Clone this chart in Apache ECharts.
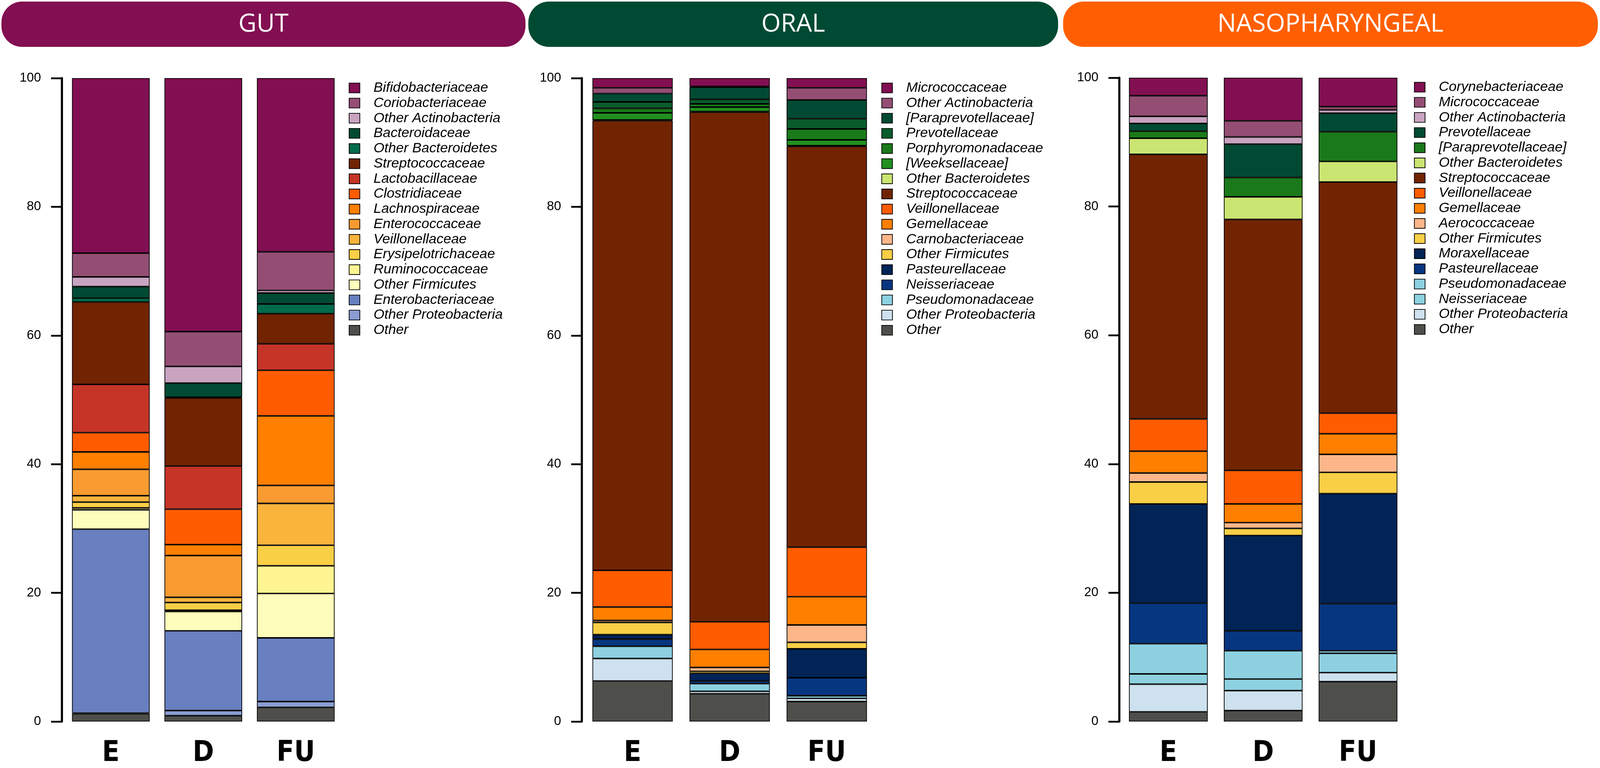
<!DOCTYPE html>
<html>
<head>
<meta charset="utf-8">
<script src="https://cdn.jsdelivr.net/npm/echarts@6/dist/echarts.min.js"></script>
<style>
html,body{margin:0;padding:0;background:#fff;overflow:hidden;}
#c{width:100vw;height:100vh;}
</style>
</head>
<body>
<div id="c"></div>
<script>
// ---------------- DATA ----------------
const samples = ['E', 'D', 'FU'];
const panelTitles = ['GUT', 'ORAL', 'NASOPHARYNGEAL'];
const yTicks = [0, 20, 40, 60, 80, 100];

// GUT (legend order, top of bar -> bottom)
const gutTaxa = ['Bifidobacteriaceae','Coriobacteriaceae','Other Actinobacteria','Bacteroidaceae','Other Bacteroidetes','Streptococcaceae','Lactobacillaceae','Clostridiaceae','Lachnospiraceae','Enterococcaceae','Veillonellaceae','Erysipelotrichaceae','Ruminococcaceae','Other Firmicutes','Enterobacteriaceae','Other Proteobacteria','Other'];
const gutE  = [27.2, 3.7, 1.5, 1.8, 0.6, 12.8, 7.5, 3.0, 2.7, 4.1, 1.0, 0.9, 0.3, 3.0, 28.6, 0.1, 1.2];
const gutD  = [39.4, 5.4, 2.6, 2.2, 0.1, 10.6, 6.7, 5.5, 1.7, 6.5, 0.8, 1.2, 0.2, 3.0, 12.4, 0.8, 0.9];
const gutFU = [27.0, 6.0, 0.4, 1.7, 1.5, 4.7, 4.1, 7.1, 10.8, 2.8, 6.5, 3.2, 4.3, 6.9, 9.9, 0.9, 2.2];
const gutColors = ['#820f52','#944e74','#c9a4c1','#004a33','#006b4a','#722402','#c53427','#ff5c00','#ff7f00','#f99b30','#fab43c','#f9cf46','#fef592','#fefdbb','#687fc0','#8a9dd2','#4e4f4b'];

// ORAL
const oralTaxa = ['Micrococcaceae','Other Actinobacteria','[Paraprevotellaceae]','Prevotellaceae','Porphyromonadaceae','[Weeksellaceae]','Other Bacteroidetes','Streptococcaceae','Veillonellaceae','Gemellaceae','Carnobacteriaceae','Other Firmicutes','Pasteurellaceae','Neisseriaceae','Pseudomonadaceae','Other Proteobacteria','Other'];
const oralE  = [1.5, 0.9, 1.3, 1.0, 0.7, 1.1, 0.1, 69.9, 5.7, 2.1, 0.3, 1.9, 0.7, 1.1, 1.9, 3.5, 6.3];
const oralD  = [1.3, 0.1, 1.9, 0.7, 0.5, 0.7, 0.1, 79.2, 4.3, 2.8, 0.6, 0.3, 1.2, 0.4, 1.2, 0.4, 4.3];
const oralFU = [1.5, 1.9, 2.9, 1.6, 1.7, 0.9, 0.1, 62.3, 7.7, 4.4, 2.7, 1.0, 4.5, 2.8, 0.4, 0.5, 3.1];
const oralColors = ['#820f52','#944e74','#004a33','#0a5c2c','#1a7a1a','#21901f','#cbe572','#722402','#ff5c00','#ff7f00','#fdb68a','#f9cf46','#012356','#073680','#8dd1e1','#cde1ee','#4e4f4b'];

// NASOPHARYNGEAL
const nasoTaxa = ['Corynebacteriaceae','Micrococcaceae','Other Actinobacteria','Prevotellaceae','[Paraprevotellaceae]','Other Bacteroidetes','Streptococcaceae','Veillonellaceae','Gemellaceae','Aerococcaceae','Other Firmicutes','Moraxellaceae','Pasteurellaceae','Pseudomonadaceae','Neisseriaceae','Other Proteobacteria','Other'];
const nasoE  = [2.8, 3.2, 1.1, 1.2, 1.1, 2.5, 41.1, 5.0, 3.4, 1.4, 3.4, 15.4, 6.3, 4.7, 1.6, 4.3, 1.5];
const nasoD  = [6.7, 2.5, 1.1, 5.2, 3.0, 3.5, 39.0, 5.2, 2.9, 0.9, 1.1, 14.8, 3.1, 4.4, 1.8, 3.1, 1.7];
const nasoFU = [4.5, 0.5, 0.5, 2.9, 4.6, 3.2, 35.9, 3.2, 3.2, 2.8, 3.3, 17.1, 7.3, 0.4, 3.0, 1.4, 6.2];
const nasoColors = ['#820f52','#944e74','#c9a4c1','#004a33','#1a7a1a','#cbe572','#722402','#ff5c00','#ff7f00','#fdb68a','#f9cf46','#012356','#073680','#8dd1e1','#8dd1e1','#cde1ee','#4e4f4b'];

// ---------------- LAYOUT (design units: 4482 x 1966) ----------------
const el = document.getElementById('c');
const chart = echarts.init(el, null, {renderer: 'canvas'});
const sx = chart.getWidth() / 4482;
const sy = chart.getHeight() / 1966;
const fs = Math.min(sx, sy);
const X = v => v * sx, Y = v => v * sy, F = v => v * fs;

const headerColors = ['#820f52', '#004a33', '#ff5f00'];
const headerBoxes = [[4, 1468], [1480, 1484], [2978, 1498]]; // x, width
const grids = [
  {left: X(181), top: Y(200), width: X(777), height: Y(1648)},
  {left: X(1636), top: Y(200), width: X(816), height: Y(1648)},
  {left: X(3140), top: Y(199), width: X(797), height: Y(1653)}
];
const axisOffsets = [8, 6, 5];
const barGaps = ['16%', '17.3%', '17%'];
const legendPos = [{left: 977, cy: 225}, {left: 2469, cy: 225}, {left: 3961, cy: 223}];
const legendFont = F(39);
const legendItemH = Math.max(Y(25), legendFont);
const legendRow = Y(38.4);

const panelData = [
  {key: 'GUT', taxa: gutTaxa, cols: gutColors, vals: [gutE, gutD, gutFU]},
  {key: 'ORAL', taxa: oralTaxa, cols: oralColors, vals: [oralE, oralD, oralFU]},
  {key: 'NASO', taxa: nasoTaxa, cols: nasoColors, vals: [nasoE, nasoD, nasoFU]}
];

const series = [];
const legends = [];
panelData.forEach((p, pi) => {
  for (let i = p.taxa.length - 1; i >= 0; i--) {
    series.push({
      name: p.key + '|' + p.taxa[i],
      type: 'bar',
      stack: p.key,
      xAxisIndex: pi,
      yAxisIndex: pi,
      barCategoryGap: barGaps[pi],
      data: p.vals.map(v => v[i]),
      itemStyle: {color: p.cols[i], borderColor: '#000', borderWidth: F(2)},
      emphasis: {disabled: true}
    });
  }
  legends.push({
    orient: 'vertical',
    left: X(legendPos[pi].left),
    top: Y(legendPos[pi].cy) - legendItemH / 2,
    padding: 0,
    icon: 'rect',
    itemWidth: X(30),
    itemHeight: Y(25),
    itemGap: Math.max(0, legendRow - legendItemH),
    selectedMode: false,
    data: p.taxa.map(t => p.key + '|' + t),
    formatter: n => n.split('|')[1],
    itemStyle: {borderColor: '#000', borderWidth: F(2)},
    textStyle: {
      fontFamily: 'Liberation Sans, Arial, sans-serif',
      fontStyle: 'italic',
      fontSize: legendFont,
      color: '#000',
      padding: [0, 0, 0, X(33)]
    }
  });
});

const xAxes = grids.map((g, i) => ({
  type: 'category', gridIndex: i, data: samples,
  axisLine: {show: false}, axisTick: {show: false},
  axisLabel: {
    fontFamily: '"Liberation Sans Narrow", "DejaVu Sans Condensed", "Arial Narrow", sans-serif',
    fontWeight: 'bold', fontSize: F(80), color: '#000', margin: Y(46)
  }
}));
const yAxes = grids.map((g, i) => ({
  type: 'value', gridIndex: i, min: 0, max: 100, interval: 20,
  offset: X(axisOffsets[i]),
  axisLine: {show: true, lineStyle: {color: '#000', width: F(6)}},
  axisTick: {show: true, length: X(30), lineStyle: {color: '#000', width: F(5)}},
  splitLine: {show: false},
  axisLabel: {
    fontFamily: 'Liberation Sans, Arial, sans-serif', fontSize: F(36), color: '#000', margin: X(58),
    formatter: v => (yTicks.indexOf(v) >= 0 ? String(v) : '')
  }
}));

const graphics = [];
headerBoxes.forEach((b, i) => {
  graphics.push({
    type: 'rect', silent: true,
    shape: {x: X(b[0]), y: Y(4), width: X(b[1]), height: Y(116), r: Math.min(X(58), Y(58))},
    style: {fill: headerColors[i]}
  });
  graphics.push({
    type: 'text', silent: true,
    x: X(b[0] + b[1] / 2), y: Y(63),
    style: {
      text: panelTitles[i], fill: '#fff',
      font: F(70) + 'px "Open Sans", "Noto Sans", sans-serif',
      textAlign: 'center', textVerticalAlign: 'middle'
    }
  });
});

chart.setOption({
  animation: false,
  backgroundColor: '#fff',
  grid: grids,
  xAxis: xAxes,
  yAxis: yAxes,
  legend: legends,
  series: series,
  graphic: graphics
});
</script>
</body>
</html>
